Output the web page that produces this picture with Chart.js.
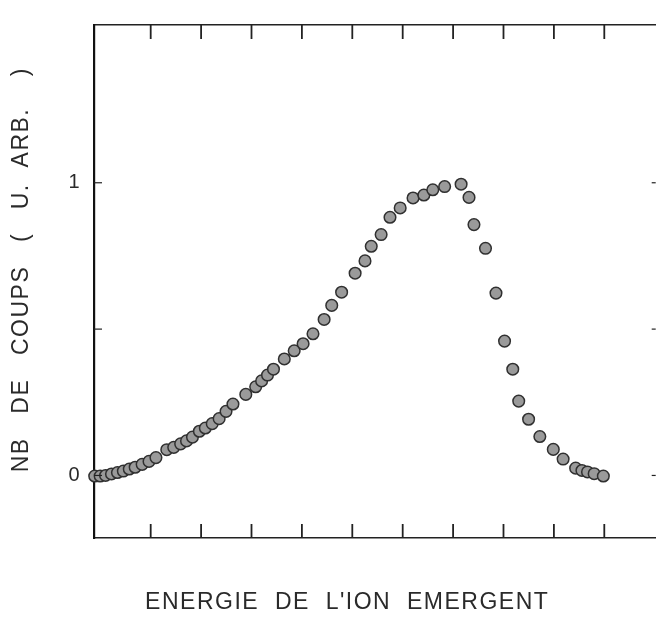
<!DOCTYPE html>
<html><head><meta charset="utf-8">
<script src="https://cdn.jsdelivr.net/npm/chart.js@4/dist/chart.umd.min.js"></script>
<style>html,body{margin:0;padding:0;background:#fff}</style>
</head><body>
<canvas id="c" width="663" height="617" style="display:block"></canvas>
<script>
// Energy of emergent ion (arbitrary units, ticks at 1..10)
const energy = [-0.111,-0.003,0.104,0.222,0.340,0.457,0.575,0.692,0.830,0.967,
  1.104,1.319,1.457,1.594,1.711,1.829,1.966,2.084,2.221,2.358,
  2.495,2.632,2.887,3.083,3.201,3.318,3.436,3.651,3.847,4.024,
  4.220,4.441,4.592,4.788,5.056,5.252,5.376,5.572,5.748,5.950,
  6.205,6.420,6.597,6.832,7.159,7.316,7.414,7.643,7.851,8.021,
  8.184,8.302,8.498,8.721,8.988,9.183,9.432,9.556,9.667,9.799,9.981];
// Counts (arbitrary units)
const counts = [-0.002,-0.002,0.000,0.005,0.010,0.015,0.022,0.028,0.038,0.048,
  0.061,0.088,0.096,0.108,0.118,0.131,0.151,0.162,0.177,0.194,
  0.219,0.244,0.277,0.303,0.323,0.343,0.363,0.398,0.426,0.450,
  0.484,0.533,0.581,0.626,0.691,0.733,0.783,0.823,0.882,0.914,
  0.948,0.958,0.976,0.987,0.995,0.950,0.857,0.776,0.623,0.459,
  0.363,0.254,0.192,0.133,0.089,0.056,0.025,0.017,0.012,0.006,-0.002];
const xTickValues = [1,2,3,4,5,6,7,8,9,10];
const yTickValues = [0,0.5,1];
const yLabelValues = [0,1];
const yLabels = ['0','1'];
const xTitle = "ENERGIE  DE  L'ION  EMERGENT       ";
const yTitle = "   NB   DE   COUPS   (   U.  ARB.    )";

const titleFont = {family:"'Liberation Sans', Arial, sans-serif", size:23, weight:'normal'};

const spacing = {
  id:'spacing',
  beforeDraw(chart){ chart.ctx.letterSpacing = '1.5px'; },
  afterDraw(chart){ chart.ctx.letterSpacing = '0px'; }
};
const innerTicks = {
  id:'innerTicks',
  afterDatasetsDraw(chart){
    const {ctx, chartArea:a, scales:{x,y}} = chart;
    ctx.save();
    ctx.strokeStyle = '#222';
    ctx.lineWidth = 1.8;
    const line=(x1,y1,x2,y2)=>{ctx.beginPath();ctx.moveTo(x1,y1);ctx.lineTo(x2,y2);ctx.stroke();};
    xTickValues.forEach(v=>{
      const px = x.getPixelForValue(v);
      line(px, a.top, px, a.top+14);
      line(px, a.bottom, px, a.bottom-14);
    });
    ctx.lineWidth = 1.2;
    yTickValues.forEach(v=>{
      const py = y.getPixelForValue(v);
      line(a.left, py, a.left+8, py);
      line(a.right, py, a.right-4, py);
    });
    ctx.restore();
  }
};

new Chart(document.getElementById('c'), {
  type:'scatter',
  data:{datasets:[{
    data: energy.map((e,i)=>({x:e, y:counts[i]})),
    pointRadius:5.8,
    pointHoverRadius:5.8,
    backgroundColor:'#9a9a9a',
    borderColor:'#303030',
    borderWidth:1.5,
    showLine:false,
    clip:false
  }]},
  options:{
    responsive:false,
    animation:false,
    events:[],
    layout:{padding:{top:9,left:0,right:0,bottom:0}},
    plugins:{legend:{display:false}, tooltip:{enabled:false}},
    scales:{
      x:{
        type:'linear', position:'bottom', min:-0.125, max:11.02,
        grid:{display:false, drawTicks:false},
        border:{display:true, color:'#222', width:1.5},
        ticks:{display:false},
        title:{display:true, text:xTitle, font:titleFont, color:'#2a2a2a', padding:{top:0,bottom:1}},
        afterFit(s){ s.height = 79; }
      },
      x2:{
        type:'linear', position:'top', min:-0.125, max:11.02,
        grid:{display:false, drawTicks:false},
        border:{display:true, color:'#222', width:1.5},
        ticks:{display:false},
        afterFit(s){ s.height = 0; }
      },
      y:{
        type:'linear', position:'left', min:-0.2137, max:1.539,
        grid:{display:false, drawTicks:false},
        border:{display:true, color:'#111', width:2.2},
        afterBuildTicks(s){ s.ticks = yLabelValues.map(v=>({value:v})); },
        ticks:{display:true, color:'#2a2a2a', padding:13,
          font:{family:"'Liberation Sans', Arial, sans-serif", size:20},
          callback:(v)=>{ const i = yLabelValues.indexOf(v); return i>=0 ? yLabels[i] : ''; }},
        title:{display:true, text:yTitle, font:titleFont, color:'#2a2a2a', padding:{top:8,bottom:0}},
        afterFit(s){ s.width = 94; }
      }
    }
  },
  plugins:[spacing, innerTicks]
});
</script>
</body></html>
